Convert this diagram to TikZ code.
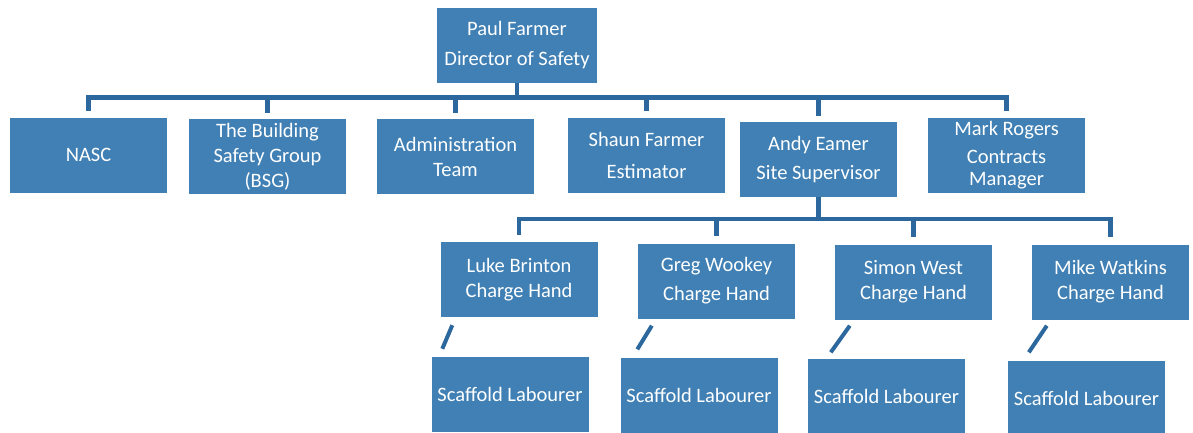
\documentclass[tikz,border=0pt]{standalone}
\usepackage{fontspec}
\setmainfont{Carlito}
\definecolor{boxblue}{RGB}{64,128,180}
\definecolor{lineblue}{RGB}{44,104,158}

\begin{document}
\begin{tikzpicture}[x=1pt, y=-1pt,
    box/.style={fill=boxblue, text=white, minimum width=157pt, minimum height=75pt,
        inner sep=0pt, align=center, font=\fontsize{20.5}{25}\selectfont},
    link/.style={draw=lineblue, line width=4.5pt},
    slash/.style={draw=lineblue, line width=4pt}]
    \useasboundingbox (0,0) rectangle (1193,432);
    \clip (0,0) rectangle (1193,432);

    % director
    \node[box, minimum width=160pt] at (517,45) (paul) {Paul Farmer\\[5pt] Director of Safety};

    % second row
    \node[box] at (88.5,155) (nasc) {NASC};
    \node[box] at (267.5,156.5) (bsg) {The Building\\ Safety Group\\ (BSG)};
    \node[box] at (455.5,156.5) (admin) {Administration\\ Team};
    \node[box] at (646.5,155) (shaun) {Shaun Farmer\\[7pt] Estimator};
    \node[box] at (818.5,159.5) (andy) {Andy Eamer\\[4pt] Site Supervisor};
    \node[box] at (1006.5,155) (mark) {Mark Rogers\\[3pt] Contracts\\[-3pt] Manager};

    % charge hands
    \node[box] at (519,279.5) (luke) {Luke Brinton\\ Charge Hand};
    \node[box] at (716.5,281) (greg) {Greg Wookey\\[4pt] Charge Hand};
    \node[box] at (913.5,282) (simon) {Simon West\\ Charge Hand};
    \node[box] at (1110.5,282) (mike) {Mike Watkins\\ Charge Hand};

    % labourers
    \node[box] at (510,394.5) (lab1) {Scaffold Labourer};
    \node[box] at (699,395) (lab2) {Scaffold Labourer};
    \node[box] at (886.5,396) (lab3) {Scaffold Labourer};
    \node[box] at (1086.5,398) (lab4) {Scaffold Labourer};

    % connectors
    \draw[link] (paul.south) -- ++(0,15) coordinate (bus);
    \foreach \n in {nasc,bsg,admin,shaun,andy,mark}
        \draw[link] (bus) -| ([yshift=6pt]\n.north);
    \draw[link] (andy.south) -- ++(0,22) coordinate (bus2);
    \foreach \n in {luke,greg,simon,mike}
        \draw[link] (bus2) -| ([yshift=7pt]\n.north);

    % slashes
    \foreach \a/\b/\ax/\ay/\bx/\by in {luke/lab1/12/8/11/8, greg/lab2/14/7/17/8,
        simon/lab3/15/6/23/6, mike/lab4/15/6/21/8}
        \draw[slash] ([xshift=\ax pt, yshift=-\ay pt]\a.south west) -- ([xshift=\bx pt, yshift=\by pt]\b.north west);
\end{tikzpicture}
\end{document}
